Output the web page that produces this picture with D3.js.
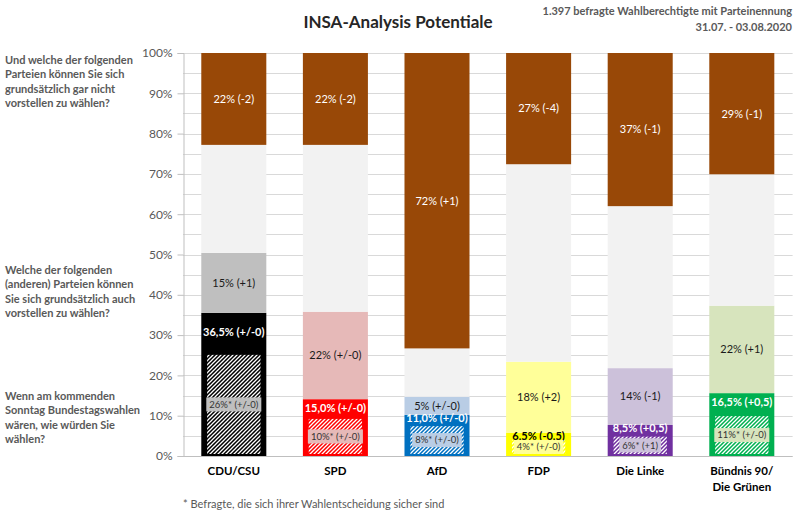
<!DOCTYPE html>
<html><head><meta charset="utf-8">
<script src="https://cdn.jsdelivr.net/npm/d3@7"></script>
<style>
body{margin:0;background:#fff}
svg{display:block}
text{font-family:Lato,'Open Sans',sans-serif}
</style>
</head><body>
<svg id="c" width="800" height="515"></svg>
<script>
// ---- data ----
const parties = ["CDU/CSU", "SPD", "AfD", "FDP", "Die Linke", "Bündnis 90/|Die Grünen"];
const voteShare = [35.5, 14.1, 10.2, 5.8, 7.7, 15.6];        // Sonntagsfrage (drawn height)
const potential = [14.9, 21.7, 4.5, 17.6, 14.1, 21.7];       // additional potential
const rejection = [22.8, 22.8, 73.3, 27.6, 38.0, 30.1];      // can't imagine voting
const sureShare = [25.1, 9.2, 7.4, 4.0, 4.8, 9.9];           // sure of their decision
const voteLabels = ["36,5% (+/-0)", "15,0% (+/-0)", "11,0% (+/-0)", "6,5% (-0,5)", "8,5% (+0,5)", "16,5% (+0,5)"];
const potLabels = ["15% (+1)", "22% (+/-0)", "5% (+/-0)", "18% (+2)", "14% (-1)", "22% (+1)"];
const rejLabels = ["22% (-2)", "22% (-2)", "72% (+1)", "27% (-4)", "37% (-1)", "29% (-1)"];
const sureLabels = ["26%* (+/-0)", "10%* (+/-0)", "8%* (+/-0)", "4%* (+/-0)", "6%* (+1)", "11%* (+/-0)"];
const yTicks = [0, 10, 20, 30, 40, 50, 60, 70, 80, 90, 100];

// ---- styles ----
const voteColors = ["#000000", "#ff0000", "#0070c0", "#ffff00", "#7030a0", "#00b050"];
const potColors = ["#bfbfbf", "#e6b9b8", "#b9cde5", "#ffff99", "#ccc1da", "#d7e4bd"];
const voteTextColors = ["#fff", "#fff", "#fff", "#000", "#fff", "#fff"];
const gapColor = "#f2f2f2", rejColor = "#984807";
const FONT = "Lato,'Open Sans',sans-serif";

const svg = d3.select("#c");
const rows = parties.map((p, i) => ({
  party: p, vote: voteShare[i], pot: potential[i],
  gap: 100 - voteShare[i] - potential[i] - rejection[i], rej: rejection[i]
}));

const x = d3.scaleBand().domain(parties).range([183, 792.6]).paddingInner(0.36).paddingOuter(0.18);
const y = d3.scaleLinear().domain([0, 100]).range([456, 53]);

// hatch pattern
const defs = svg.append("defs");
const pat = defs.append("pattern").attr("id", "hatch").attr("patternUnits", "userSpaceOnUse")
  .attr("width", 4).attr("height", 4);
pat.append("path").attr("d", "M-1,1 l2,-2 M0,4 l4,-4 M3,5 l2,-2")
  .attr("stroke", "#fff").attr("stroke-width", 1.3);

// gridlines
const grid = d3.range(0, 101, 5);
svg.append("g").selectAll("line").data(grid).join("line")
  .attr("x1", 183).attr("x2", 792.6)
  .attr("y1", d => Math.round(y(d)) + 0.5).attr("y2", d => Math.round(y(d)) + 0.5)
  .attr("stroke", "#d9d9d9").attr("stroke-width", 1);

// y axis
const yAxis = d3.axisLeft(y).tickValues(yTicks).tickFormat(d => d + "%").tickSize(6).tickPadding(5);
const ga = svg.append("g").attr("transform", "translate(183.5,0)").call(yAxis);
ga.select(".domain").attr("stroke", "#bfbfbf");
ga.selectAll(".tick line").attr("stroke", "#bfbfbf");
ga.selectAll(".tick text").attr("fill", "#595959").style("font-size", "12px").style("font-family", FONT);
svg.append("line").attr("x1", 183).attr("x2", 792.6).attr("y1", 456.5).attr("y2", 456.5).attr("stroke", "#bfbfbf");

// stacked bars
const keys = ["vote", "pot", "gap", "rej"];
const series = d3.stack().keys(keys)(rows);
const fillFor = (key, i) => key === "vote" ? voteColors[i] : key === "pot" ? potColors[i] : key === "gap" ? gapColor : rejColor;
series.forEach(s => {
  svg.append("g").selectAll("rect").data(s).join("rect")
    .attr("x", d => x(d.data.party)).attr("width", x.bandwidth())
    .attr("y", d => y(d[1])).attr("height", d => y(d[0]) - y(d[1]))
    .attr("fill", (d, i) => fillFor(s.key, i));
});

// hatched "sure" bars
const hw = x.bandwidth() * 0.82;
svg.append("g").selectAll("rect").data(sureShare).join("rect")
  .attr("x", (d, i) => x(parties[i]) + (x.bandwidth() - hw) / 2).attr("width", hw)
  .attr("y", d => y(d)).attr("height", d => y(0) - y(d) - 2)
  .attr("fill", "url(#hatch)");

const cx = i => x(parties[i]) + x.bandwidth() / 2;

// rejection labels
svg.append("g").selectAll("text").data(series[3]).join("text")
  .attr("x", (d, i) => cx(i)).attr("y", d => (y(d[0]) + y(d[1])) / 2)
  .attr("text-anchor", "middle").attr("dy", "0.35em")
  .attr("fill", "#fff").style("font-size", "11px").text((d, i) => rejLabels[i]);

// potential labels
svg.append("g").selectAll("text").data(series[1]).join("text")
  .attr("x", (d, i) => cx(i)).attr("y", d => (y(d[0]) + y(d[1])) / 2)
  .attr("text-anchor", "middle").attr("dy", "0.35em")
  .attr("fill", "#1a1a1a").style("font-size", "11px").text((d, i) => potLabels[i]);

// vote labels (inside top of the vote segment)
const voteOffset = v => v > 30 ? 19 : v > 12 ? 9 : 3.5;
svg.append("g").selectAll("text").data(voteShare).join("text")
  .attr("x", (d, i) => cx(i)).attr("y", d => y(d) + voteOffset(d))
  .attr("text-anchor", "middle").attr("dy", "0.35em")
  .attr("fill", (d, i) => voteTextColors[i]).style("font-size", "11px").style("font-weight", "bold")
  .text((d, i) => voteLabels[i]);

// sure labels with boxes
const sg = svg.append("g").selectAll("g").data(sureShare).join("g")
  .attr("transform", (d, i) => `translate(${cx(i)},${(y(d) + y(0) - 2) / 2})`);
sg.append("text").attr("text-anchor", "middle").attr("dy", "0.35em")
  .attr("fill", "#333").style("font-size", "9.5px").text((d, i) => sureLabels[i]);
sg.each(function (d, i) {
  const t = d3.select(this).select("text");
  const w = t.node().getComputedTextLength();
  d3.select(this).insert("rect", "text").attr("x", -w / 2 - 3).attr("y", -7).attr("width", w + 6).attr("height", 14)
    .attr("fill", potColors[i]);
});

// x labels
svg.append("g").selectAll("text").data(parties).join("text")
  .attr("y", 475)
  .attr("text-anchor", "middle").attr("fill", "#000").style("font-size", "11.5px").style("font-weight", "bold")
  .each(function (d) {
    const parts = d.split("|");
    const xc = x(d) + x.bandwidth() / 2;
    d3.select(this).selectAll("tspan").data(parts).join("tspan")
      .attr("x", xc).attr("dy", (p, j) => j ? 16 : 0).text(p => p);
  });

// left question texts
const questions = [
  { y: 60, lines: ["Und welche der folgenden", "Parteien können Sie sich", "grundsätzlich gar nicht", "vorstellen zu wählen?"] },
  { y: 270, lines: ["Welche der folgenden", "(anderen) Parteien können", "Sie sich grundsätzlich auch", "vorstellen zu wählen?"] },
  { y: 396, lines: ["Wenn am kommenden", "Sonntag Bundestagswahlen", "wären, wie würden Sie", "wählen?"] }
];
questions.forEach(q => {
  svg.append("g").selectAll("text").data(q.lines).join("text")
    .attr("x", 5).attr("y", (l, j) => q.y + j * 14.5).attr("dy", "0.35em")
    .attr("fill", "#595959").style("font-size", "11px").style("font-weight", "bold").text(l => l);
});

// title & subtitle
svg.append("text").attr("x", 398).attr("y", 22).attr("dy", "0.35em").attr("text-anchor", "middle")
  .attr("fill", "#262626").style("font-size", "17px").style("font-weight", "bold").text("INSA-Analysis Potentiale");
svg.append("text").attr("x", 792).attr("y", 11).attr("dy", "0.35em").attr("text-anchor", "end")
  .attr("fill", "#595959").style("font-size", "11px").style("font-weight", "bold")
  .text("1.397 befragte Wahlberechtigte mit Parteinennung");
svg.append("text").attr("x", 792).attr("y", 27).attr("dy", "0.35em").attr("text-anchor", "end")
  .attr("fill", "#595959").style("font-size", "11px").style("font-weight", "bold")
  .text("31.07. - 03.08.2020");

// footnote
svg.append("text").attr("x", 183).attr("y", 504).attr("dy", "0.35em")
  .attr("fill", "#595959").style("font-size", "11px").text("* Befragte, die sich ihrer Wahlentscheidung sicher sind");
</script>
</body></html>
